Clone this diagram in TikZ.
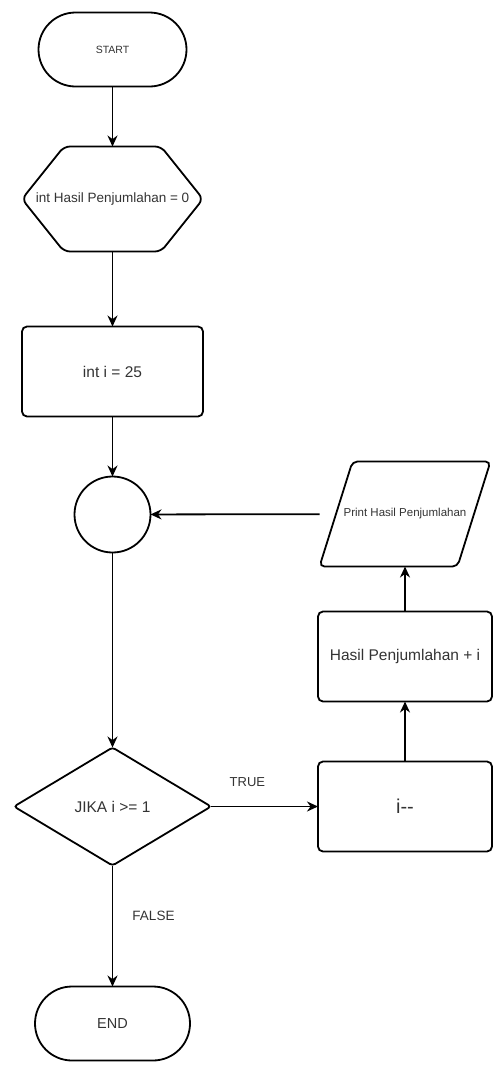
\documentclass[tikz,border=0pt]{standalone}
\usepackage{fontspec}
\setmainfont{Liberation Sans}
\usetikzlibrary{arrows.meta,positioning,shapes.geometric}

\begin{document}
\begin{tikzpicture}[
  x=1pt,y=1pt,line width=1.8pt,
  every node/.style={text=black!80,outer sep=0pt},
  term/.style={draw,rounded corners=37pt,minimum width=148pt,minimum height=74pt,inner sep=0pt},
  proc/.style={draw,rounded corners=5pt,minimum width=174pt,minimum height=90pt,inner sep=0pt},
  shell/.style={minimum width=181pt,minimum height=105pt,inner sep=0pt},
  junction/.style={draw,circle,minimum size=76pt,inner sep=0pt},
  cond/.style={draw,diamond,minimum width=197pt,minimum height=118pt,inner sep=0pt,rounded corners=3pt},
  ar/.style={-{Stealth[length=11pt,width=10pt]},draw=black,line width=1.8pt}
]
\useasboundingbox (0,0) rectangle (503,-1072);

\node[term,font=\fontsize{10.5}{12}\selectfont] (start) at (112.5,-49.5) {START};
\node[shell,below=60pt of start,font=\fontsize{13.5}{16}\selectfont] (hex) {int Hasil Penjumlahan = 0};
\draw[rounded corners=6pt] (hex.west) -- ([xshift=42pt]hex.north west) -- ([xshift=-42pt]hex.north east)
  -- (hex.east) -- ([xshift=-42pt]hex.south east) -- ([xshift=42pt]hex.south west) -- cycle;
\node[proc,minimum width=181pt,below=75pt of hex,font=\fontsize{15.5}{18}\selectfont] (init) {int i = 25};
\node[junction,below=60pt of init] (circ) {};
\node[cond,below=195pt of circ,font=\fontsize{15.5}{18}\selectfont] (dec) {JIKA i >= 1};
\node[term,minimum width=155pt,below=121pt of dec,font=\fontsize{14.5}{17}\selectfont] (stop) {END};

\node[proc,right=107pt of dec,font=\fontsize{20}{24}\selectfont] (dcr) {i{-}{-}};
\node[proc,above=60pt of dcr,font=\fontsize{15.5}{18}\selectfont] (sum) {Hasil Penjumlahan + i};
\node[shell,minimum width=171pt,above=45pt of sum,font=\fontsize{11.5}{14}\selectfont] (prt) {Print Hasil Penjumlahan};
\draw[rounded corners=5pt] ([xshift=33pt]prt.north west) -- (prt.north east)
  -- ([xshift=-33pt]prt.south east) -- (prt.south west) -- cycle;

\foreach \x/\z in {start/hex,hex/init,init/circ,circ/dec,dcr/sum,sum/prt,prt/circ}{\draw[ar] (\x) -- (\z);}
\draw[ar] (dec) -- node[pos=0.34,yshift=24pt,font=\fontsize{13}{15}\selectfont] {TRUE} (dcr);
\draw[ar] (dec) -- node[pos=0.42,xshift=41pt,font=\fontsize{13.5}{16}\selectfont] {FALSE} (stop);
\end{tikzpicture}
\end{document}
